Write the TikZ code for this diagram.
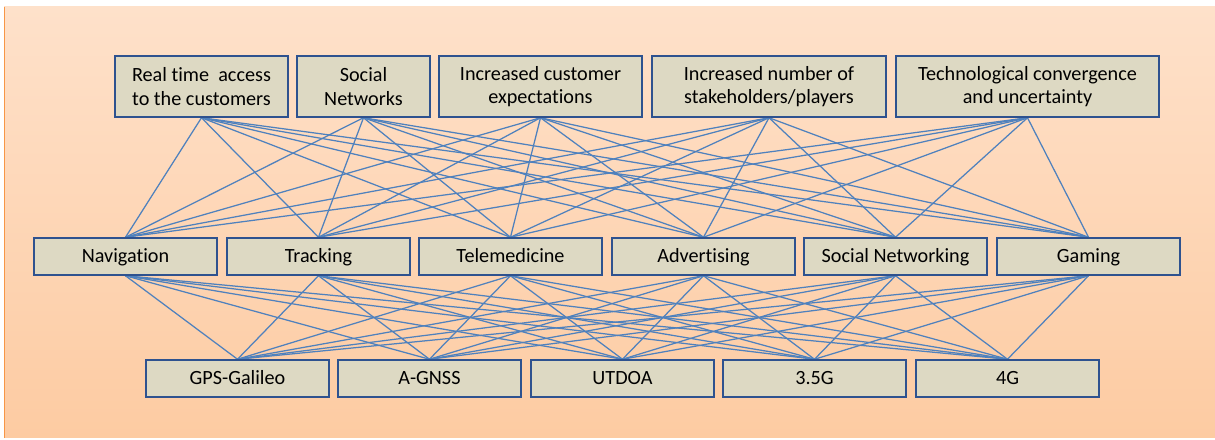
\documentclass[tikz,border=0pt]{standalone}
\usepackage{fontspec}
\setmainfont[Ligatures={NoCommon}]{Carlito}
\usetikzlibrary{backgrounds}
\pgfdeclarelayer{backmost}
\pgfsetlayers{backmost,background,main}
\definecolor{bgtop}{HTML}{FEE1CA}
\definecolor{bgbot}{HTML}{FDCBA2}
\definecolor{boxfill}{HTML}{DDD9C3}
\definecolor{boxline}{HTML}{2E528F}
\definecolor{linkc}{HTML}{4F81BD}
\definecolor{edgeorange}{HTML}{F79646}
\begin{document}
\begin{tikzpicture}[x=1bp,y=-1bp,
  box/.style={draw=boxline,line width=1.5bp,fill=boxfill,inner sep=0pt,align=center,
    font=\fontsize{20.2bp}{23.5bp}\selectfont,text=black},
  onebox/.style={box,minimum width=183bp,minimum height=37bp,text height=13bp,text depth=0bp},
  twobox/.style={box,minimum height=61bp},
  link/.style={draw=linkc,line width=1.25bp}]
\useasboundingbox (0,0) rectangle (1215,440);
\begin{pgfonlayer}{backmost}
\fill[white] (0,0) rectangle (1215,440);
\shade[top color=bgtop,bottom color=bgbot] (4,7) rectangle (1215,438);
\draw[edgeorange,line width=1.5bp] (4.5,7) -- (4.5,438);
\end{pgfonlayer}
% top row
\node[twobox,minimum width=173bp] (t1) at (201.5,86.5) {Real time\ \ access\\to the customers};
\node[twobox,minimum width=133bp] (t2) at (363.5,86.5) {Social\\Networks};
\node[twobox,minimum width=203bp] (t3) at (540.5,86.5) {Increased customer\\expectations};
\node[twobox,minimum width=234bp] (t4) at (769,86.5) {Increased number of\\stakeholders/players};
\node[twobox,minimum width=263bp] (t5) at (1027.5,86.5) {Technological convergence\\and uncertainty};
% middle row
\foreach \n/\x/\t in {m1/125.5/Navigation,m2/318.5/Tracking,m3/510.5/Telemedicine,m4/703.5/Advertising,m5/895.5/Social Networking,m6/1088.5/Gaming}
  \node[onebox] (\n) at (\x,256.5) {\t};
% bottom row
\foreach \n/\x/\t in {b1/237.5/GPS-Galileo,b2/429.5/A-GNSS,b3/622.5/UTDOA,b4/814.5/3.5G,b5/1007.5/4G}
  \node[onebox] (\n) at (\x,378.5) {\t};
% links
\begin{pgfonlayer}{background}
\foreach \a in {t1,t2,t3,t4,t5}
  \foreach \b in {m1,m2,m3,m4,m5,m6}
    \draw[link] (\a.south) -- (\b.north);
\foreach \a in {m1,m2,m3,m4,m5,m6}
  \foreach \b in {b1,b2,b3,b4,b5}
    \draw[link] (\a.south) -- (\b.north);
\end{pgfonlayer}
\end{tikzpicture}
\end{document}
